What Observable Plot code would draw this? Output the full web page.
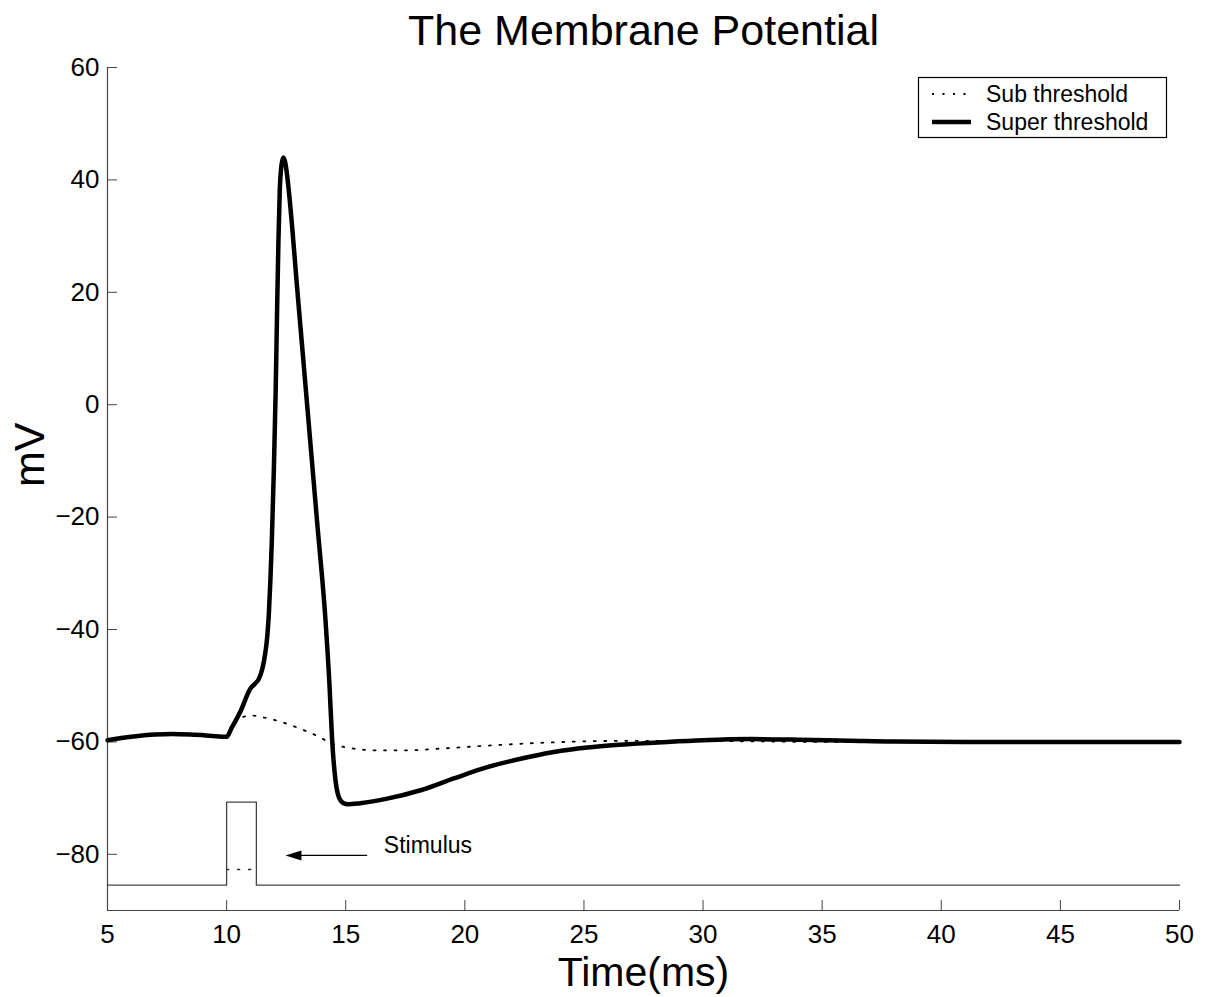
<!DOCTYPE html>
<html>
<head>
<meta charset="utf-8">
<script src="https://cdn.jsdelivr.net/npm/d3@7"></script>
<script src="https://cdn.jsdelivr.net/npm/@observablehq/plot@0.6"></script>
<style>
  html, body { margin: 0; padding: 0; background: #fff; }
</style>
</head>
<body>
<div id="chart"></div>
<script>
// ---- data ----
const superT = [5, 6, 7, 7.7, 8.5, 9.3, 10.0, 10.2, 10.6, 11.0, 11.2, 11.34, 11.5, 11.62, 11.7, 11.77, 11.84, 11.9, 11.98, 12.06, 12.12, 12.175, 12.23, 12.3, 12.38, 12.45, 12.52, 12.61, 13.0, 13.4, 13.8, 14.15, 14.32, 14.43, 14.57, 14.71, 14.9, 15.1, 15.6, 16.74, 18.14, 19.54, 20.94, 22.34, 23.74, 25.14, 26.5, 28.5, 30, 32, 34, 36.2, 38, 41, 45, 50];
const superV = [-59.7, -59.1, -58.7, -58.6, -58.7, -58.9, -59.1, -57.6, -54.4, -50.5, -49.6, -48.9, -47.0, -44.3, -41.5, -37.5, -31, -24, -12, 2.5, 17, 29, 38, 42.5, 44.0, 43.3, 41.5, 38.1, 18.8, -1.0, -20.9, -38.3, -50, -59.7, -66.8, -69.8, -70.9, -71.1, -70.9, -70.1, -68.6, -66.5, -64.5, -63.0, -61.8, -61.0, -60.5, -60.0, -59.7, -59.5, -59.6, -59.8, -59.95, -60.0, -60.0, -60.0];

const subT = [5, 6, 7, 7.7, 8.5, 9.3, 10.0, 10.3, 10.65, 11.07, 11.49, 11.91, 12.33, 12.75, 13.17, 13.59, 14.01, 14.43, 14.92, 15.34, 16.18, 17.58, 18.98, 21.2, 23, 25.7, 28, 32, 35, 40, 50];
const subV = [-59.7, -59.1, -58.7, -58.6, -58.7, -58.9, -59.1, -56.5, -55.6, -55.3, -55.6, -56.0, -56.5, -57.1, -57.8, -58.5, -59.4, -60.3, -60.9, -61.2, -61.5, -61.5, -61.2, -60.6, -60.2, -59.85, -59.8, -59.9, -60.0, -60.0, -60.0];

const stimT = [5, 10, 10, 11.25, 11.25, 50];
const stimSuperV = [-85.5, -85.5, -70.7, -70.7, -85.5, -85.5];
const stimSubV = [-85.5, -85.5, -82.7, -82.7, -85.5, -85.5];

const xTicks = [5, 10, 15, 20, 25, 30, 35, 40, 45, 50];
const yTicks = [-80, -60, -40, -20, 0, 20, 40, 60];
const xDomain = [5, 50];
const yDomain = [-90, 60];

const titleText = "The Membrane Potential";
const xLabel = "Time(ms)";
const yLabel = "mV";
const seriesNames = ["Sub threshold", "Super threshold"];
const annotation = {label: "Stimulus", x: 16.6, y: -78.5, arrowFrom: 15.9, arrowTo: 13.1, arrowTip: 12.47, arrowY: -80.2};

// ---- tables ----
const superData = superT.map((t, i) => ({t, v: superV[i]}));
const subData = subT.map((t, i) => ({t, v: subV[i]}));
const stimSuper = stimT.map((t, i) => ({t, v: stimSuperV[i]}));
const stimSub = stimT.map((t, i) => ({t, v: stimSubV[i], base: stimSuperV[0]}));

const FONT = "'Liberation Sans', Arial, Helvetica, sans-serif";
const fmt = d => d < 0 ? "\u2212" + (-d) : String(d);

const arrowHead = {
  draw(context, size) {
    // tip at origin, pointing left
    context.moveTo(0, 0);
    context.lineTo(16, -5);
    context.lineTo(16, 5);
    context.closePath();
  }
};

const plot = Plot.plot({
  width: 1214,
  height: 997,
  marginLeft: 107,
  marginRight: 35,
  marginTop: 67,
  marginBottom: 87,
  style: {fontFamily: FONT, fontSize: "26px", color: "black", background: "white", overflow: "visible"},
  x: {domain: xDomain, ticks: xTicks, tickFormat: fmt, label: null},
  y: {domain: yDomain, ticks: yTicks, tickFormat: fmt, label: null},
  marks: [
    Plot.ruleY([yDomain[0]], {stroke: "#444", strokeWidth: 1.2}),
    Plot.ruleX([xDomain[0]], {stroke: "#444", strokeWidth: 1.2}),
    Plot.axisX({ticks: xTicks, tickFormat: fmt, tickSize: -10, tickPadding: 24, stroke: "#444", fill: "black", fontSize: 26, label: null}),
    Plot.axisY({ticks: yTicks, tickFormat: fmt, tickSize: -10, tickPadding: 18, stroke: "#444", fill: "black", fontSize: 26, label: null}),
    // stimulus traces
    Plot.line(stimSub, {filter: d => d.v !== d.base, x: "t", y: "v", stroke: "#222", strokeWidth: 1.5, strokeDasharray: "2,9"}),
    Plot.line(stimSuper, {x: "t", y: "v", stroke: "#444", strokeWidth: 1.3}),
    // membrane potential
    Plot.line(subData, {x: "t", y: "v", stroke: "black", strokeWidth: 1.8, strokeDasharray: "2,8.5", curve: "monotone-x"}),
    Plot.line(superData, {x: "t", y: "v", stroke: "black", strokeWidth: 4.5, curve: "monotone-x", strokeLinejoin: "round"}),
    // annotation
    Plot.link([annotation], {x1: "arrowFrom", x2: "arrowTo", y1: "arrowY", y2: "arrowY", stroke: "black", strokeWidth: 1.2}),
    Plot.dot([annotation], {x: "arrowTip", y: "arrowY", symbol: arrowHead, fill: "black", stroke: "none"}),
    Plot.text([annotation], {x: "x", y: "y", text: "label", textAnchor: "start", lineAnchor: "middle", fontSize: 23, fill: "black"}),
    // titles
    Plot.text([titleText], {frameAnchor: "top", dy: -36, fontSize: 43, lineAnchor: "middle", fill: "black"}),
    Plot.text([xLabel], {frameAnchor: "bottom", dy: 62, fontSize: 41, lineAnchor: "middle", fill: "black"}),
    Plot.text([yLabel], {frameAnchor: "left", dx: -77, dy: -2, fontSize: 43, rotate: -90, lineAnchor: "middle", fill: "black"})
  ]
});

// legend inside the plot area (top-right)
const svg = d3.select(plot);
const lg = svg.append("g").attr("font-family", FONT).attr("font-size", 23).attr("text-anchor", "start");
lg.append("rect").attr("x", 918.5).attr("y", 77.5).attr("width", 248).attr("height", 60)
  .attr("fill", "white").attr("stroke", "black").attr("stroke-width", 1.2);
const styles = [
  {w: 1.8, dash: "2,8.5"},
  {w: 4.5, dash: null}
];
seriesNames.forEach((name, i) => {
  const yy = 94 + i * 28;
  const l = lg.append("line").attr("x1", 932).attr("x2", 971).attr("y1", yy).attr("y2", yy)
    .attr("stroke", "black").attr("stroke-width", styles[i].w);
  if (styles[i].dash) l.attr("stroke-dasharray", styles[i].dash);
  lg.append("text").attr("x", 986).attr("y", yy + 8).attr("fill", "black").attr("text-anchor", "start").text(name);
});

document.getElementById("chart").appendChild(plot);
</script>
</body>
</html>
